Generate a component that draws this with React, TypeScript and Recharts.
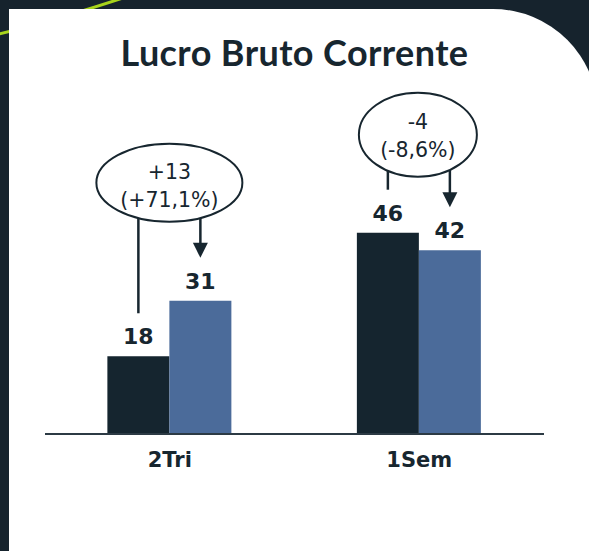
import React from 'react';
import { BarChart, Bar, XAxis, YAxis, LabelList } from 'recharts';

// Lucro Bruto Corrente (R$ mi)
const categories = ['2Tri', '1Sem'];
const previousValues = [17.8, 46.1];
const currentValues = [30.5, 42.1];
const deltaLabels = ['+13', '-4'];
const deltaPctLabels = ['(+71,1%)', '(-8,6%)'];

const data = categories.map((cat, i) => ({
  cat,
  prev: previousValues[i],
  curr: currentValues[i],
}));

const DARK = '#15252f';
const BLUE = '#4b6b9a';
const INK = '#17262f';
const BG = '#16232d';

// bubble size and lift above the taller bar, per category
const BUBBLES = [
  { rx: 73, ry: 39, lift: 118, dx: 0, t1: -4, t2: 24 },
  { rx: 59, ry: 42, lift: 98, dx: -1, t1: -6, t2: 22 },
];

const W = 589;
const H = 551;

function ValueLabel(props: any) {
  const { x, y, width, value } = props;
  return (
    <text
      x={Number(x) + Number(width) / 2}
      y={Number(y) - 12}
      textAnchor="middle"
      fontFamily="DejaVu Sans"
      fontWeight={700}
      fontSize={22}
      fill={INK}
    >
      {Math.round(Number(value))}
    </text>
  );
}

function Bubble(props: any) {
  const { x, y, width, height, index } = props;
  const bx = Number(x);
  const by = Number(y);
  const bw = Number(width);
  const base = by + Number(height);
  const darkTop = base - (base - by) * previousValues[index] / currentValues[index];
  const s = BUBBLES[index];
  const cx = bx + s.dx;
  const cy = Math.min(by, darkTop) - s.lift;
  const edge = (px: number) => cy + s.ry * Math.sqrt(Math.max(0, 1 - ((px - cx) / s.rx) ** 2));
  const leftX = bx - bw / 2;
  const rightX = bx + bw / 2;
  const tip = by - 43;
  return (
    <g>
      <ellipse cx={cx} cy={cy} rx={s.rx} ry={s.ry} fill="#fff" stroke={INK} strokeWidth={2} />
      <line x1={leftX} x2={leftX} y1={edge(leftX)} y2={darkTop - 43} stroke={INK} strokeWidth={2.5} />
      <line x1={rightX} x2={rightX} y1={edge(rightX)} y2={tip - 14} stroke={INK} strokeWidth={2.5} />
      <path d={`M${rightX - 7.5} ${tip - 15} L${rightX + 7.5} ${tip - 15} L${rightX} ${tip} Z`} fill={INK} />
      <text x={cx} textAnchor="middle" fontFamily="DejaVu Sans" fontSize={20.5} fill={INK}>
        <tspan x={cx} y={cy + s.t1}>{deltaLabels[index]}</tspan>
        <tspan x={cx} y={cy + s.t2}>{deltaPctLabels[index]}</tspan>
      </text>
    </g>
  );
}

function CatTick(props: any) {
  const { x, y, payload } = props;
  return (
    <text
      x={x}
      y={Number(y) + 33}
      textAnchor="middle"
      fontFamily="DejaVu Sans"
      fontWeight={700}
      fontSize={21}
      fill={INK}
    >
      {payload.value}
    </text>
  );
}

export default function App() {
  return (
    <div style={{ position: 'fixed', left: 0, top: 0, width: W, height: H, background: BG, overflow: 'hidden' }}>
      <svg width={W} height={H} style={{ position: 'absolute', left: 0, top: 0 }}>
        <path d="M-5 35 Q 50 22 126 -3" fill="none" stroke="#a8d41c" strokeWidth={3} />
        <path d="M9 560 L9 9 L493 9 A105 105 0 0 1 598 114 L598 560 Z" fill="#fff" />
        <text
          x={294.5}
          y={66}
          textAnchor="middle"
          fontFamily="Lato"
          fontWeight={700}
          fontSize={36}
          letterSpacing={0.4}
          fill={INK}
        >
          Lucro Bruto Corrente
        </text>
      </svg>
      <div style={{ position: 'absolute', left: 0, top: 0 }}>
        <BarChart
          width={W}
          height={H}
          data={data}
          margin={{ top: 172, right: 45, bottom: 87, left: 45 }}
          barCategoryGap="25%"
          barGap={0}
        >
          <YAxis hide domain={[0, 60]} />
          <XAxis
            dataKey="cat"
            axisLine={{ stroke: '#2c3a44', strokeWidth: 2 }}
            tickLine={false}
            tickSize={0}
            tickMargin={0}
            tick={<CatTick />}
          />
          <Bar dataKey="prev" fill={DARK} isAnimationActive={false}>
            <LabelList dataKey="prev" content={<ValueLabel />} />
          </Bar>
          <Bar dataKey="curr" fill={BLUE} isAnimationActive={false}>
            <LabelList dataKey="curr" content={<ValueLabel />} />
            <LabelList dataKey="curr" content={<Bubble />} />
          </Bar>
        </BarChart>
      </div>
    </div>
  );
}
